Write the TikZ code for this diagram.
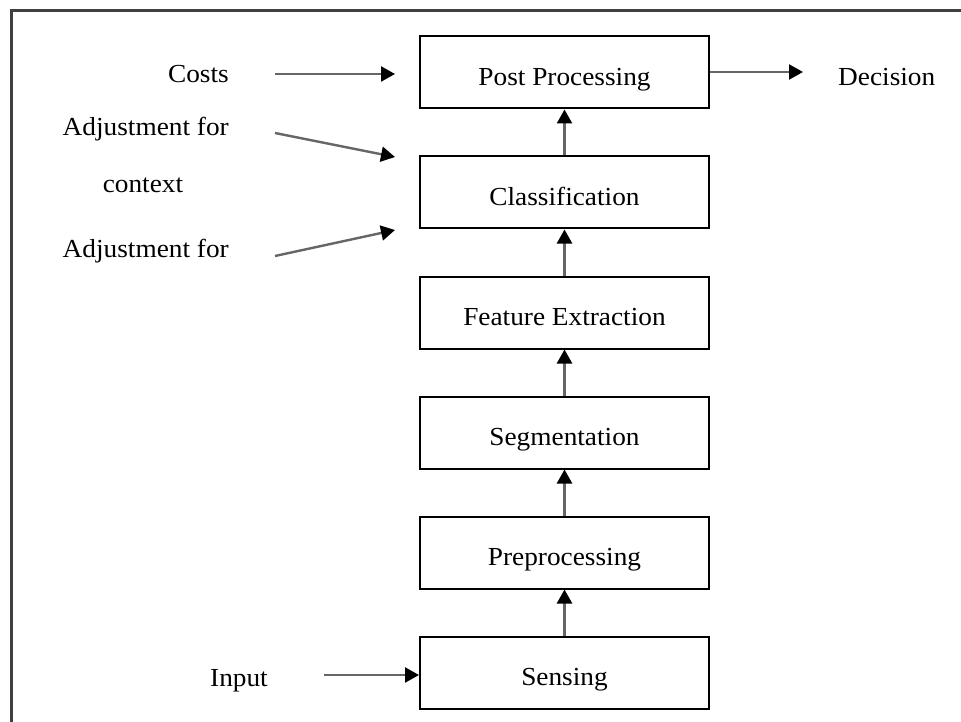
\documentclass[tikz,border=0pt]{standalone}
\usepackage{fontspec}
\setmainfont[FakeStretch=1.05]{Liberation Serif}
\usetikzlibrary{arrows.meta}
\begin{document}
\begin{tikzpicture}[x=1pt,y=-1pt,
  stagebox/.style={draw=black,line width=2pt,minimum width=289pt,minimum height=72pt,inner sep=0pt,
    text height=26pt,text depth=0pt,font=\fontsize{26pt}{30pt}\selectfont},
  lbl/.style={inner sep=0pt,font=\fontsize{26pt}{30pt}\selectfont},
  flow/.style={line width=2.4pt,draw=black!60,-{Triangle[length=14pt,width=15pt,fill=black,color=black]}},
]
\useasboundingbox (0,0) rectangle (961,722);
\fill[white] (0,0) rectangle (961,722);
\draw[line width=3pt,draw=black!75] (11,730) -- (11,11) -- (970,11);

\node[stagebox] (post) at (564.5,72.5) {Post Processing};
\node[stagebox] (cls)  at (564.5,192.5) {Classification};
\node[stagebox] (feat) at (564.5,312.5) {Feature Extraction};
\node[stagebox] (seg)  at (564.5,432.5) {Segmentation};
\node[stagebox] (pre)  at (564.5,552.5) {Preprocessing};
\node[stagebox] (sens) at (564.5,672.5) {Sensing};

\node[lbl,anchor=base east] (costs) at (229,83) {Costs};
\node[lbl,anchor=base east] (adj1) at (229,136) {Adjustment for};
\node[lbl,anchor=base] (ctx) at (143,193) {context};
\node[lbl,anchor=base east] (adj2) at (229,257) {Adjustment for};
\node[lbl,anchor=base west] (dec) at (838,86) {Decision};
\node[lbl,anchor=base] (inp) at (239,686) {Input};

\coordinate (c0) at (275,74);
\coordinate (c1) at (395,74);
\coordinate (a0) at (275,133);
\coordinate (a1) at (395,157);
\coordinate (b0) at (275,256);
\coordinate (b1) at (395,230);
\coordinate (d1) at (803,72);
\coordinate (i0) at (324,675);

\draw[flow] (c0) -- (c1);
\draw[flow] (a0) -- (a1);
\draw[flow] (b0) -- (b1);
\draw[flow] (post.east |- d1) -- (d1);
\draw[flow] (i0) -- (i0 -| sens.west);

\draw[flow] (sens.north) -- (pre.south);
\draw[flow] (pre.north) -- (seg.south);
\draw[flow] (seg.north) -- (feat.south);
\draw[flow] (feat.north) -- (cls.south);
\draw[flow] (cls.north) -- (post.south);
\end{tikzpicture}
\end{document}
